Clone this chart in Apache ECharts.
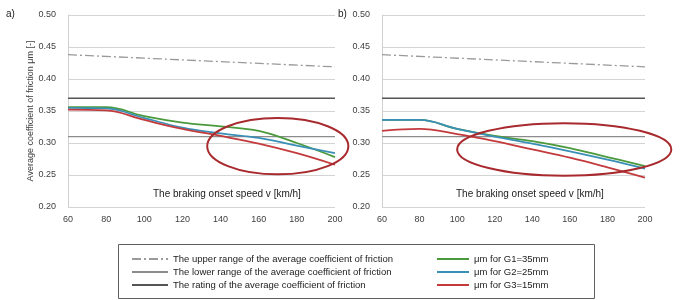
<!DOCTYPE html>
<html>
<head>
<meta charset="utf-8">
<script src="https://cdn.jsdelivr.net/npm/echarts@6/dist/echarts.min.js"></script>
<style>
  html, body { margin: 0; padding: 0; background: #fff; }
  #main { width: 680px; height: 300px; }
</style>
</head>
<body>
<div id="main"></div>
<script>
// braking onset speed [km/h]
const speeds = [60, 80, 100, 120, 140, 160, 180, 200];

// a) panel
const g1A = [0.356, 0.356, 0.342, 0.332, 0.326, 0.319, 0.300, 0.278];
const g2A = [0.355, 0.354, 0.339, 0.324, 0.315, 0.308, 0.296, 0.284];
const g3A = [0.352, 0.351, 0.336, 0.322, 0.311, 0.299, 0.284, 0.266];

// b) panel
const g1B = [0.336, 0.336, 0.322, 0.311, 0.303, 0.292, 0.278, 0.264];
const g2B = [0.336, 0.336, 0.322, 0.310, 0.299, 0.287, 0.274, 0.260];
const g3B = [0.319, 0.322, 0.314, 0.303, 0.290, 0.277, 0.262, 0.246];

// reference levels (same on both panels)
const upperRange = [0.438, 0.419];   // at 60 and 200 km/h
const lowerRange = 0.31;
const ratingLevel = 0.37;

// highlighted regions: [centre speed, centre mu, half width km/h, half height mu]
const ellipseA = [170, 0.295, 37, 0.044];
const ellipseB = [157, 0.290, 57, 0.041];

const names = {
  upper: 'The upper range of the average coefficient of friction',
  lower: 'The lower range of the average coefficient of friction',
  rating: 'The rating of the average coefficient of friction',
  g1: 'μm for G1=35mm',
  g2: 'μm for G2=25mm',
  g3: 'μm for G3=15mm'
};

const font = 'Liberation Sans, Arial, sans-serif';
const textColor = '#404040';
const green = '#4a9a3c', blue = '#3a8fb6', red = '#c23a3c';

let myChart = echarts.init(document.getElementById('main'));

function pairs(vals) {
  return speeds.map((s, i) => [s, vals[i]]);
}

function panelSeries(idx, g1, g2, g3) {
  const first = speeds[0], last = speeds[speeds.length - 1];
  const base = { type: 'line', xAxisIndex: idx, yAxisIndex: idx, symbol: 'none', silent: true };
  return [
    Object.assign({}, base, {
      name: names.upper,
      data: [[first, upperRange[0]], [last, upperRange[1]]],
      lineStyle: { color: '#9a9a9a', width: 1.3, type: [9, 3, 2, 3] },
      itemStyle: { color: '#9a9a9a' }
    }),
    Object.assign({}, base, {
      name: names.lower,
      data: [[first, lowerRange], [last, lowerRange]],
      lineStyle: { color: '#8c8c8c', width: 1.4 },
      itemStyle: { color: '#8c8c8c' }
    }),
    Object.assign({}, base, {
      name: names.rating,
      data: [[first, ratingLevel], [last, ratingLevel]],
      lineStyle: { color: '#555555', width: 1.4 },
      itemStyle: { color: '#555555' }
    }),
    Object.assign({}, base, {
      name: names.g1, smooth: 0.4, data: pairs(g1),
      lineStyle: { color: green, width: 1.8 }, itemStyle: { color: green }
    }),
    Object.assign({}, base, {
      name: names.g2, smooth: 0.4, data: pairs(g2),
      lineStyle: { color: blue, width: 1.8 }, itemStyle: { color: blue }
    }),
    Object.assign({}, base, {
      name: names.g3, smooth: 0.4, data: pairs(g3),
      lineStyle: { color: red, width: 1.8 }, itemStyle: { color: red }
    })
  ];
}

function xAxisFor(idx) {
  return {
    type: 'value', gridIndex: idx, min: 60, max: 200, interval: 20,
    axisLine: { show: false },
    axisTick: { show: false },
    splitLine: { show: false },
    axisLabel: { color: textColor, fontSize: 9, fontFamily: font, margin: 8 }
  };
}

function yAxisFor(idx) {
  return {
    type: 'value', gridIndex: idx, min: 0.2, max: 0.5, interval: 0.05,
    name: idx === 0 ? 'Average coefficient of friction μm [-]' : '',
    nameLocation: 'middle', nameGap: 32,
    nameTextStyle: { color: textColor, fontSize: 9, fontFamily: font },
    axisLine: { show: true, lineStyle: { color: '#d0d0d0' } },
    axisTick: { show: false },
    splitLine: { lineStyle: { color: '#d4d4d4', width: 1 } },
    axisLabel: {
      color: textColor, fontSize: 9, fontFamily: font, margin: 12,
      formatter: v => v.toFixed(2)
    }
  };
}

const legendText = { color: '#222', fontSize: 9.5, fontFamily: font };

option = {
  animation: false,
  backgroundColor: '#fff',
  grid: [
    { left: 68, right: 345, top: 15, bottom: 93 },
    { left: 382, right: 35, top: 15, bottom: 93 }
  ],
  xAxis: [xAxisFor(0), xAxisFor(1)],
  yAxis: [yAxisFor(0), yAxisFor(1)],
  legend: [
    {
      orient: 'vertical', left: 126, top: 249,
      data: [names.upper, names.lower, names.rating],
      itemWidth: 36, itemHeight: 8, itemGap: 3,
      itemStyle: { opacity: 0 },
      selectedMode: false, textStyle: legendText
    },
    {
      orient: 'vertical', left: 431, top: 249,
      data: [names.g1, names.g2, names.g3],
      itemWidth: 32, itemHeight: 8, itemGap: 3,
      itemStyle: { opacity: 0 },
      selectedMode: false, textStyle: legendText
    }
  ],
  graphic: [
    {
      type: 'rect', left: 116, top: 242, silent: true,
      shape: { width: 476, height: 54 },
      style: { fill: 'none', stroke: '#606060', lineWidth: 1 }
    },
    { type: 'text', left: 6, top: 9, style: { text: 'a)', fill: '#222', font: '10px ' + font } },
    { type: 'text', left: 338, top: 9, style: { text: 'b)', fill: '#222', font: '10px ' + font } },
    {
      type: 'text', left: 153, top: 189,
      style: { text: 'The braking onset speed v [km/h]', fill: '#222', font: '10px ' + font }
    },
    {
      type: 'text', left: 456, top: 189,
      style: { text: 'The braking onset speed v [km/h]', fill: '#222', font: '10px ' + font }
    }
  ],
  series: panelSeries(0, g1A, g2A, g3A).concat(panelSeries(1, g1B, g2B, g3B))
};

option && myChart.setOption(option);

// red ellipses placed in data coordinates of each panel
function ellipseGraphic(idx, e) {
  const c = myChart.convertToPixel({ gridIndex: idx }, [e[0], e[1]]);
  const edge = myChart.convertToPixel({ gridIndex: idx }, [e[0] + e[2], e[1] + e[3]]);
  return {
    type: 'ellipse', silent: true, z: 100,
    shape: { cx: c[0], cy: c[1], rx: Math.abs(edge[0] - c[0]), ry: Math.abs(edge[1] - c[1]) },
    style: { fill: 'none', stroke: '#a82a2e', lineWidth: 2 }
  };
}

myChart.setOption({
  graphic: option.graphic.concat([ellipseGraphic(0, ellipseA), ellipseGraphic(1, ellipseB)])
});
</script>
</body>
</html>
